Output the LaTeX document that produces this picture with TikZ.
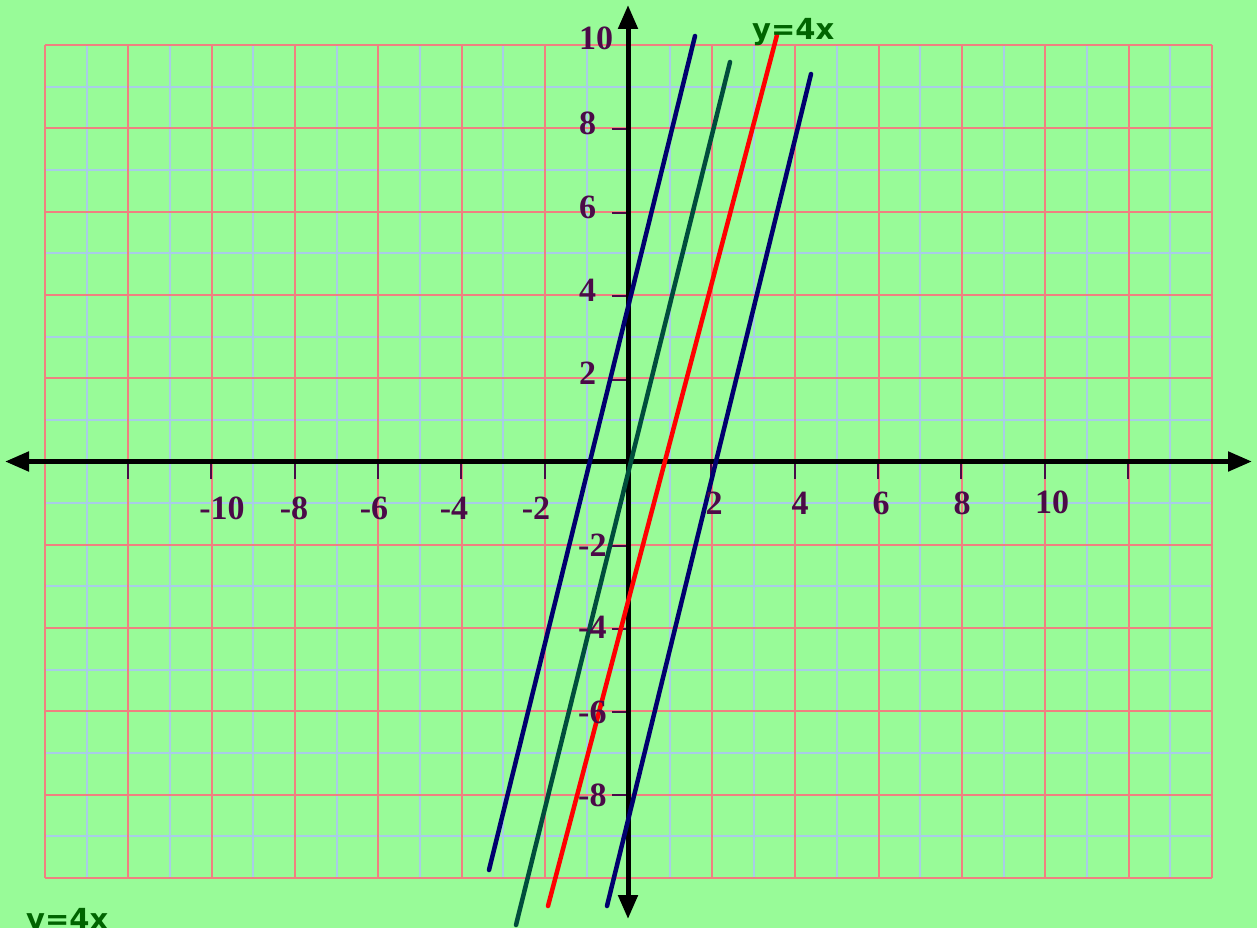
\documentclass[tikz,border=0pt]{standalone}
\usepackage{fontspec}
\setmainfont{Liberation Serif}
\newfontfamily\eqfont{DejaVu Sans}
\usetikzlibrary{arrows.meta}
\definecolor{bg}{RGB}{152,251,152}
\definecolor{gridred}{RGB}{240,128,128}
\definecolor{gridblue}{RGB}{168,204,232}
\definecolor{lblpurple}{RGB}{75,10,72}
\definecolor{navyline}{RGB}{0,0,110}
\definecolor{greenline}{RGB}{0,77,60}
\definecolor{eqgreen}{RGB}{0,100,0}
\tikzset{
  axisline/.style={line width=5pt,-{Triangle[length=24pt,width=19pt]}},
  plotline/.style={line width=4.5pt,line cap=round},
  gridr/.style={gridred,line width=2pt},
  gridb/.style={gridblue,line width=2pt},
  ticks/.style={lblpurple,line width=2pt},
  numlbl/.style={text=lblpurple,font=\fontsize{34}{34}\selectfont\bfseries,inner sep=0pt},
  eqlbl/.style={text=eqgreen,font=\eqfont\fontsize{29}{29}\selectfont\bfseries,inner sep=0pt,anchor=base west}
}
\begin{document}
\begin{tikzpicture}[x=1pt,y=-1pt]
\useasboundingbox (0,0) rectangle (1257,928);
\fill[bg] (0,0) rectangle (1257,928);
% grid
\foreach \i in {1,3,...,27} \draw[gridb] ({45+\i*41.68},45) -- ({45+\i*41.68},878);
\foreach \j in {1,3,...,19} \draw[gridb] (45,{45+\j*41.65}) -- (1212,{45+\j*41.65});
\foreach \i in {0,2,...,28} \draw[gridr] ({45+\i*41.68},45) -- ({45+\i*41.68},878);
\foreach \j in {0,2,...,20} \draw[gridr] (45,{45+\j*41.65}) -- (1212,{45+\j*41.65});
% ticks
\foreach \x in {128,211,295,378,461,545,711,795,878,961,1045,1128}
  \draw[ticks] (\x,464) -- (\x,479);
\foreach \y in {129,213,296,380,546,629,712,795}
  \draw[ticks] (612,\y) -- (626,\y);
% axes
\coordinate (xo) at (628,461.5);
\coordinate (xl) at (5,461.5);
\coordinate (xr) at (1252,461.5);
\coordinate (yt) at (628,5);
\coordinate (yb) at (628,919);
\draw[axisline] (xo) -- (xl);
\draw[axisline] (xo) -- (xr);
\draw[axisline] (xo) -- (yt);
\draw[axisline] (xo) -- (yb);
% plotted lines
\coordinate (b1s) at (489,870); \coordinate (b1e) at (695,36);
\coordinate (gs) at (516,925);  \coordinate (ge) at (730,62);
\coordinate (rs) at (548,906);  \coordinate (re) at (777,35);
\coordinate (b2s) at (607,906); \coordinate (b2e) at (811,74);
\draw[plotline,navyline] (b1s) -- (b1e);
\draw[plotline,greenline] (gs) -- (ge);
\draw[plotline,red] (rs) -- (re);
\draw[plotline,navyline] (b2s) -- (b2e);
% x labels
\node[numlbl] (xm10) at (222,508) {-10};
\node[numlbl] (xm8) at (294,508) {-8};
\node[numlbl] (xm6) at (374,508) {-6};
\node[numlbl] (xm4) at (454,508) {-4};
\node[numlbl] (xm2) at (536,508) {-2};
\node[numlbl] (xp2) at (714,503) {2};
\node[numlbl] (xp4) at (800,503) {4};
\node[numlbl] (xp6) at (881,503) {6};
\node[numlbl] (xp8) at (962,503) {8};
\node[numlbl] (xp10) at (1052,502) {10};
% y labels
\node[numlbl,anchor=west] (yp10) at (579,38) {10};
\node[numlbl,anchor=west] (yp8) at (579,123) {8};
\node[numlbl,anchor=west] (yp6) at (579,207) {6};
\node[numlbl,anchor=west] (yp4) at (579,290) {4};
\node[numlbl,anchor=west] (yp2) at (579,373) {2};
\node[numlbl,anchor=west] (ym2) at (578,545) {-2};
\node[numlbl,anchor=west] (ym4) at (578,627) {-4};
\node[numlbl,anchor=west] (ym6) at (578,712) {-6};
\node[numlbl,anchor=west] (ym8) at (578,795) {-8};
% equation labels
\node[eqlbl] (eqtop) at (752,40) {y=4x};
\node[eqlbl] (eqbot) at (26,929) {y=4x};
\end{tikzpicture}
\end{document}
